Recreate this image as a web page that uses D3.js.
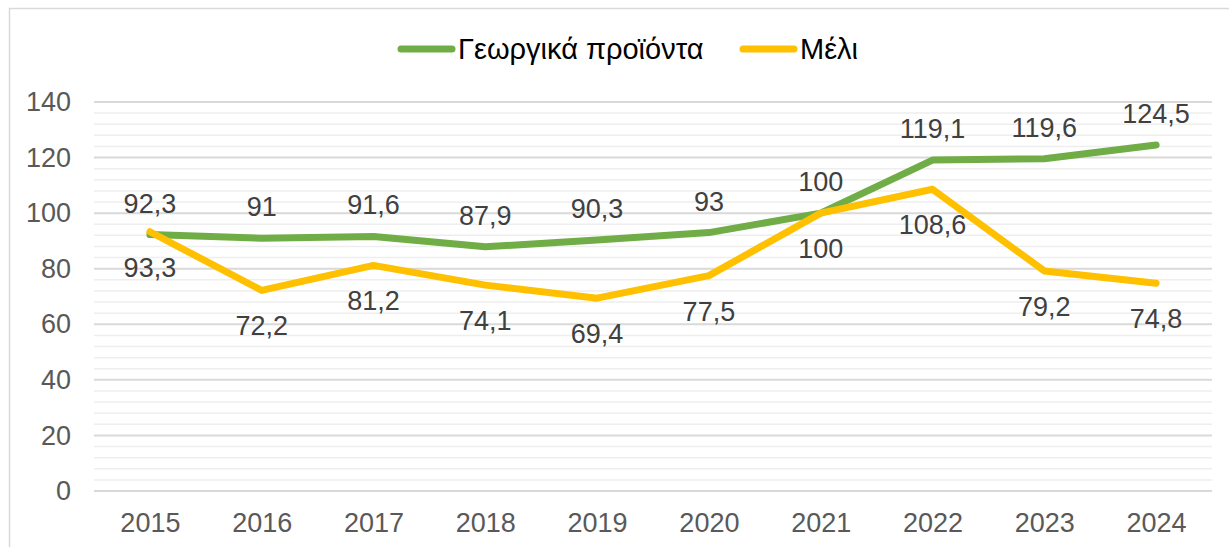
<!DOCTYPE html>
<html>
<head>
<meta charset="utf-8">
<script src="https://cdn.jsdelivr.net/npm/d3@7"></script>
<style>
  body { margin: 0; background: #fff; }
  svg { display: block; font-family: "Liberation Sans", Arial, sans-serif; }
</style>
</head>
<body>
<div id="chart"></div>
<script>
// data
const years = ['2015', '2016', '2017', '2018', '2019', '2020', '2021', '2022', '2023', '2024'];
const agriValues = [92.3, 91, 91.6, 87.9, 90.3, 93, 100, 119.1, 119.6, 124.5];
const honeyValues = [93.3, 72.2, 81.2, 74.1, 69.4, 77.5, 100, 108.6, 79.2, 74.8];
const seriesNames = ['Γεωργικά προϊόντα', 'Μέλι'];
const yTicks = [0, 20, 40, 60, 80, 100, 120, 140];

const width = 1229;
const height = 547;
const margin = { top: 102, right: 17, bottom: 56, left: 94 };

const svg = d3.select('#chart')
  .append('svg')
  .attr('width', width)
  .attr('height', height);

// chart frame
svg.append('rect')
  .attr('x', 9.5)
  .attr('y', 8.5)
  .attr('width', width + 20)
  .attr('height', height + 20)
  .attr('fill', 'none')
  .attr('stroke', '#d9d9d9')
  .attr('stroke-width', 1.5);

const x = d3.scalePoint()
  .domain(years)
  .range([margin.left, width - margin.right])
  .padding(0.5);

const y = d3.scaleLinear()
  .domain([0, 140])
  .range([height - margin.bottom, margin.top]);

// minor gridlines every 4
svg.append('g')
  .selectAll('line')
  .data(d3.range(0, 141, 4).filter(v => v % 20 !== 0))
  .enter()
  .append('line')
  .attr('x1', margin.left)
  .attr('x2', width - margin.right)
  .attr('y1', d => y(d))
  .attr('y2', d => y(d))
  .attr('stroke', '#eeeeee')
  .attr('stroke-width', 1.5);

// major gridlines
svg.append('g')
  .selectAll('line')
  .data(yTicks)
  .enter()
  .append('line')
  .attr('x1', margin.left)
  .attr('x2', width - margin.right)
  .attr('y1', d => y(d))
  .attr('y2', d => y(d))
  .attr('stroke', '#d9d9d9')
  .attr('stroke-width', 2);

// y axis labels
const yAxis = svg.append('g')
  .attr('transform', `translate(${margin.left - 23}, 0)`)
  .call(d3.axisLeft(y).tickValues(yTicks).tickSize(0).tickPadding(0));
yAxis.select('.domain').remove();
yAxis.selectAll('text')
  .attr('fill', '#595959')
  .style('font-size', '27px')
  .style('font-family', '"Liberation Sans", Arial, sans-serif');

// x axis labels
const xAxis = svg.append('g')
  .attr('transform', `translate(0, ${height - margin.bottom})`)
  .call(d3.axisBottom(x).tickSize(0).tickPadding(22));
xAxis.select('.domain').remove();
xAxis.selectAll('text')
  .attr('fill', '#595959')
  .style('font-size', '27px')
  .style('font-family', '"Liberation Sans", Arial, sans-serif');

const line = d3.line()
  .x((d, i) => x(years[i]))
  .y(d => y(d));

const series = [
  { name: seriesNames[0], values: agriValues, color: '#70ad47', dy: -22 },
  { name: seriesNames[1], values: honeyValues, color: '#ffc000', dy: 45 }
];

series.forEach(s => {
  svg.append('path')
    .datum(s.values)
    .attr('d', line)
    .attr('fill', 'none')
    .attr('stroke', s.color)
    .attr('stroke-width', 7)
    .attr('stroke-linejoin', 'round')
    .attr('stroke-linecap', 'round');
});

// data labels
series.forEach(s => {
  svg.append('g')
    .selectAll('text')
    .data(s.values)
    .enter()
    .append('text')
    .attr('x', (d, i) => x(years[i]))
    .attr('y', d => y(d) + s.dy)
    .attr('text-anchor', 'middle')
    .attr('fill', '#404040')
    .style('font-size', '27px')
    .text(d => String(d).replace('.', ','));
});

// legend
const legendItems = [
  { x: 398, color: series[0].color, name: series[0].name },
  { x: 740, color: series[1].color, name: series[1].name }
];
const legend = svg.append('g');
legendItems.forEach(item => {
  legend.append('line')
    .attr('x1', item.x + 3)
    .attr('x2', item.x + 54)
    .attr('y1', 49)
    .attr('y2', 49)
    .attr('stroke', item.color)
    .attr('stroke-width', 7)
    .attr('stroke-linecap', 'round');
  legend.append('text')
    .attr('x', item.x + 60)
    .attr('y', 59)
    .attr('fill', '#000')
    .style('font-size', '29px')
    .text(item.name);
});
</script>
</body>
</html>
